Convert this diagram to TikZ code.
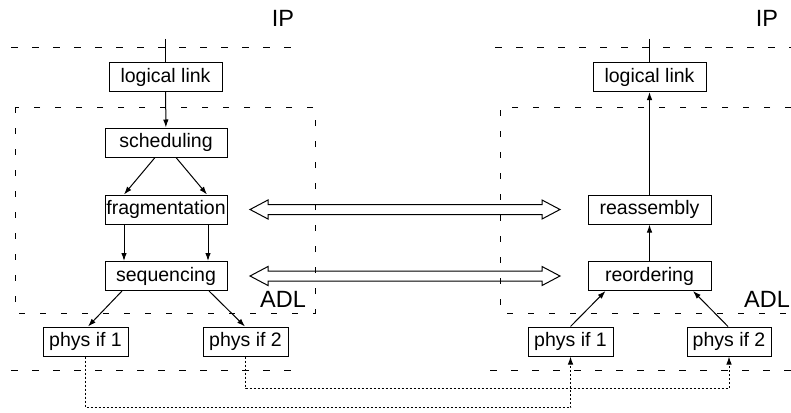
\documentclass[tikz,border=0pt]{standalone}
\usepackage{fontspec}
\setmainfont{Liberation Sans}
\usetikzlibrary{arrows.meta}
\begin{document}
\begin{tikzpicture}[x=1pt,y=-1pt,
  box/.style={draw, line width=1pt, inner sep=0pt, font=\fontsize{19.5}{20}\selectfont, minimum height=29pt},
  lbl/.style={font=\fontsize{23.5}{24}\selectfont, inner sep=0pt},
  layer/.style={dash pattern=on 7pt off 14pt, line width=1pt},
  adl/.style={dash pattern=on 6pt off 15pt, line width=1pt},
  plain/.style={line width=1pt},
  conn/.style={line width=1pt, -{Latex[length=8pt,width=5.5pt]}},
  phys/.style={dash pattern=on 2pt off 2pt, line width=1pt, -{Latex[length=8pt,width=5.5pt]}},
  dblarrow/.pic={\draw[line width=1pt] (0,0) -- (18,-9.5) -- (18,-5) -- (292,-5) -- (292,-9.5) -- (310,0) -- (292,9.5) -- (292,5) -- (18,5) -- (18,9.5) -- cycle;}
]
\useasboundingbox (0,0) rectangle (791,412);

% layer lines
\draw[layer] (11,48) -- (305,48);
\draw[layer] (495,48) -- (791,48);
\draw[layer] (11,370) -- (305,370);
\draw[layer] (490,370) -- (791,370);
% ADL boxes
\draw[adl] (15,107) rectangle (315,313);
\draw[adl] (791,107) -- (500,107) -- (500,313) -- (791,313);

% labels
\node[lbl] (ip1) at (283,18) {IP};
\node[lbl] (ip2) at (767,18) {IP};
\node[lbl] (adl1) at (283,299) {ADL};
\node[lbl] (adl2) at (767,299) {ADL};

% left stack
\node[box, minimum width=113pt] (ll1) at (165.5,77) {logical link};
\node[box, minimum width=122pt] (sch) at (166,142.5) {scheduling};
\node[box, minimum width=122pt] (frag) at (166,209.5) {fragmentation};
\node[box, minimum width=122pt] (seq) at (166,276) {sequencing};
\node[box, minimum width=85pt] (p1l) at (85.5,341.5) {phys if 1};
\node[box, minimum width=85pt] (p2l) at (245.5,341.5) {phys if 2};

% right stack
\node[box, minimum width=113pt] (ll2) at (649.5,77) {logical link};
\node[box, minimum width=123pt] (reas) at (649.5,209.5) {reassembly};
\node[box, minimum width=123pt] (reord) at (649.5,276) {reordering};
\node[box, minimum width=85pt] (p1r) at (570.5,341.5) {phys if 1};
\node[box, minimum width=84pt] (p2r) at (729,341.5) {phys if 2};

% left connectors
\coordinate (top1) at (165.5,39);
\draw[plain] (top1) -- (ll1.north);
\draw[conn] (ll1) -- (sch);
\draw[conn] ([xshift=-11pt]sch.south) -- ([xshift=-42pt]frag.north);
\draw[conn] ([xshift=10pt]sch.south) -- ([xshift=41pt]frag.north);
\draw[conn] ([xshift=-42pt]frag.south) -- ([xshift=-42pt]seq.north);
\draw[conn] ([xshift=42pt]frag.south) -- ([xshift=42pt]seq.north);
\draw[conn] ([xshift=-44pt]seq.south) -- ([xshift=2.5pt]p1l.north);
\draw[conn] ([xshift=43pt]seq.south) -- ([xshift=-0.5pt]p2l.north);

% right connectors
\coordinate (top2) at (649.5,39);
\draw[plain] (top2) -- (ll2.north);
\draw[conn] (reas) -- (ll2);
\draw[conn] (reord) -- (reas);
\draw[conn] (p1r.north) -- ([xshift=-44pt]reord.south);
\draw[conn] ([xshift=-1pt]p2r.north) -- ([xshift=43.5pt]reord.south);

% physical links
\draw[phys] (p1l.south) -- ++(0,51) -| (p1r.south);
\draw[phys] (p2l.south) -- ++(0,32) -| (p2r.south);

% hollow double arrows
\pic at (250,209.5) {dblarrow};
\pic at (250,276) {dblarrow};
\end{tikzpicture}
\end{document}
